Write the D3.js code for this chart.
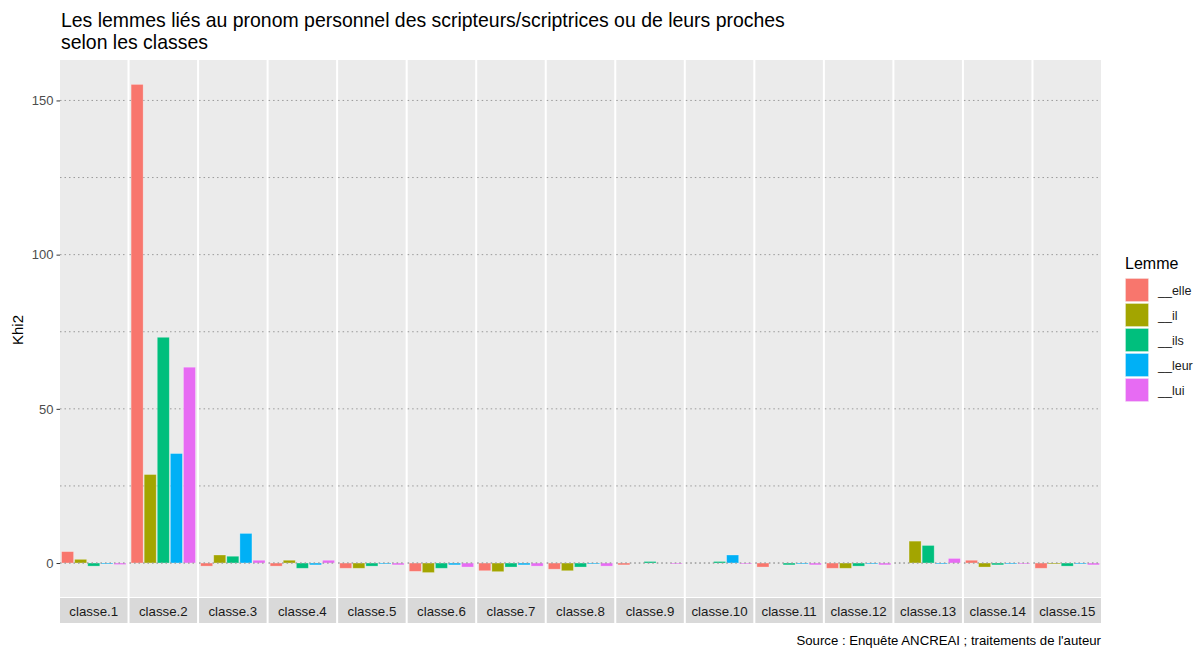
<!DOCTYPE html>
<html>
<head>
<meta charset="utf-8">
<script src="https://cdn.jsdelivr.net/npm/d3@7"></script>
<style>
  body { margin: 0; background: #fff; }
  text { font-family: "Liberation Sans", Arial, sans-serif; }
</style>
</head>
<body>
<svg id="chart" width="1197" height="648"></svg>
<script>
// donnees
const classes = ["classe.1","classe.2","classe.3","classe.4","classe.5","classe.6","classe.7","classe.8",
                 "classe.9","classe.10","classe.11","classe.12","classe.13","classe.14","classe.15"];
const lemmes = ["__elle","__il","__ils","__leur","__lui"];
const elle = [3.7, 155.2, -1.0, -1.0, -1.7, -2.7, -2.5, -2.0, -0.6, 0.0, -1.3, -1.7, 0.0, 0.9, -1.7];
const il   = [1.2, 28.7, 2.6, 0.9, -1.7, -3.1, -2.8, -2.5, 0.0, 0.0, 0.0, -1.7, 7.1, -1.3, -0.3];
const ils  = [-1.0, 73.2, 2.2, -1.7, -1.0, -1.7, -1.3, -1.3, 0.5, 0.5, -0.6, -1.0, 5.7, -0.6, -1.0];
const leur = [-0.3, 35.5, 9.6, -0.6, -0.3, -0.6, -0.6, -0.3, 0.0, 2.6, -0.3, -0.3, -0.3, -0.3, -0.3];
const lui  = [-0.5, 63.5, 0.9, 0.9, -0.6, -1.3, -1.0, -1.0, -0.3, -0.3, -0.6, -0.6, 1.5, -0.3, -0.6];
const yTicks = [0, 50, 100, 150];
const yMinor = [25, 75, 125];
const couleurs = ["#F8766D", "#A3A500", "#00BF7D", "#00B0F6", "#E76BF3"];

const series = [elle, il, ils, leur, lui];
const rows = [];
classes.forEach((c, i) => {
  lemmes.forEach((l, j) => rows.push({classe: c, lemme: l, val: series[j][i]}));
});

const svg = d3.select("#chart");

const pLeft = 60, pRight = 1101, pTop = 60, pBottom = 597;

// echelle y avec expansion 5% a la ggplot
const ext = d3.extent(rows, d => d.val);
const pad = (ext[1] - ext[0]) * 0.05;
const y = d3.scaleLinear().domain([ext[0] - pad, ext[1] + pad]).range([pBottom, pTop]);

const fx = d3.scaleBand().domain(classes).range([pLeft, pRight]).paddingInner(0.029);
const x = d3.scaleBand().domain(lemmes).range([0, fx.bandwidth()]).paddingInner(0.08).paddingOuter(0.12);
const color = d3.scaleOrdinal().domain(lemmes).range(couleurs);

// titre
svg.append("text").attr("x", 61).attr("y", 27).attr("font-size", "19.45px").attr("fill", "#000")
  .text("Les lemmes liés au pronom personnel des scripteurs/scriptrices ou de leurs proches");
svg.append("text").attr("x", 61).attr("y", 49).attr("font-size", "19.45px").attr("fill", "#000")
  .text("selon les classes");

// panneaux
const panels = svg.selectAll("g.panel").data(classes).enter().append("g")
  .attr("class", "panel")
  .attr("transform", d => `translate(${fx(d)},0)`);

panels.append("rect").attr("x", 0).attr("y", pTop).attr("width", fx.bandwidth()).attr("height", pBottom - pTop)
  .attr("fill", "#EBEBEB");

panels.each(function() {
  const g = d3.select(this);
  g.selectAll("line.grid").data(yTicks.concat(yMinor)).enter().append("line")
    .attr("x1", 0).attr("x2", fx.bandwidth())
    .attr("y1", d => y(d)).attr("y2", d => y(d))
    .attr("stroke", "#9a9a9a").attr("stroke-width", 1).attr("stroke-dasharray", "1.5,3");
});

panels.each(function(c) {
  const g = d3.select(this);
  const data = rows.filter(r => r.classe === c);
  g.selectAll("rect.bar").data(data).enter().append("rect")
    .attr("class", "bar")
    .attr("x", d => x(d.lemme))
    .attr("width", x.bandwidth())
    .attr("y", d => y(Math.max(0, d.val)))
    .attr("height", d => Math.abs(y(d.val) - y(0)))
    .attr("fill", d => color(d.lemme))
    .attr("stroke", "rgba(255,255,255,0.35)")
    .attr("stroke-width", 0.8);
  g.append("line").attr("x1", 0).attr("x2", fx.bandwidth())
    .attr("y1", y(0)).attr("y2", y(0))
    .attr("stroke", "#9a9a9a").attr("stroke-width", 1).attr("stroke-dasharray", "1.5,3");
});

// bandeaux en bas
panels.append("rect").attr("x", 0).attr("y", 598).attr("width", fx.bandwidth()).attr("height", 25)
  .attr("fill", "#D9D9D9");
panels.append("text").attr("x", fx.bandwidth() / 2).attr("y", 615.5).attr("text-anchor", "middle")
  .attr("font-size", "13.3px").attr("fill", "#1A1A1A").text(d => d);

// axe y
const yAxis = svg.append("g").attr("transform", `translate(${pLeft},0)`)
  .call(d3.axisLeft(y).tickValues(yTicks).tickSize(3.5).tickPadding(3));
yAxis.select(".domain").remove();
yAxis.selectAll(".tick line").attr("stroke", "#333");
yAxis.selectAll(".tick text").attr("font-size", "13px").attr("fill", "#4D4D4D")
  .style("font-family", "'Liberation Sans', Arial, sans-serif");

svg.append("text").attr("transform", "translate(23,330) rotate(-90)").attr("text-anchor", "middle")
  .attr("font-size", "15px").attr("fill", "#000").text("Khi2");

// legende
const leg = svg.append("g").attr("transform", "translate(1125,0)");
leg.append("text").attr("x", 0).attr("y", 269).attr("font-size", "16px").attr("fill", "#000").text("Lemme");
const items = leg.selectAll("g.item").data(lemmes).enter().append("g")
  .attr("transform", (d, i) => `translate(0,${278 + i * 25})`);
items.append("rect").attr("width", 24).attr("height", 24).attr("fill", "#F2F2F2");
items.append("rect").attr("x", 0.5).attr("y", 0.5).attr("width", 23).attr("height", 23)
  .attr("fill", d => color(d)).attr("stroke", "rgba(255,255,255,0.35)");
items.append("text").attr("x", 33).attr("y", 16.5).attr("font-size", "12.5px").attr("fill", "#1A1A1A").text(d => d);

// source
svg.append("text").attr("x", pRight).attr("y", 645).attr("text-anchor", "end")
  .attr("font-size", "13.2px").attr("fill", "#000").text("Source : Enquête ANCREAI ; traitements de l'auteur");
</script>
</body>
</html>
